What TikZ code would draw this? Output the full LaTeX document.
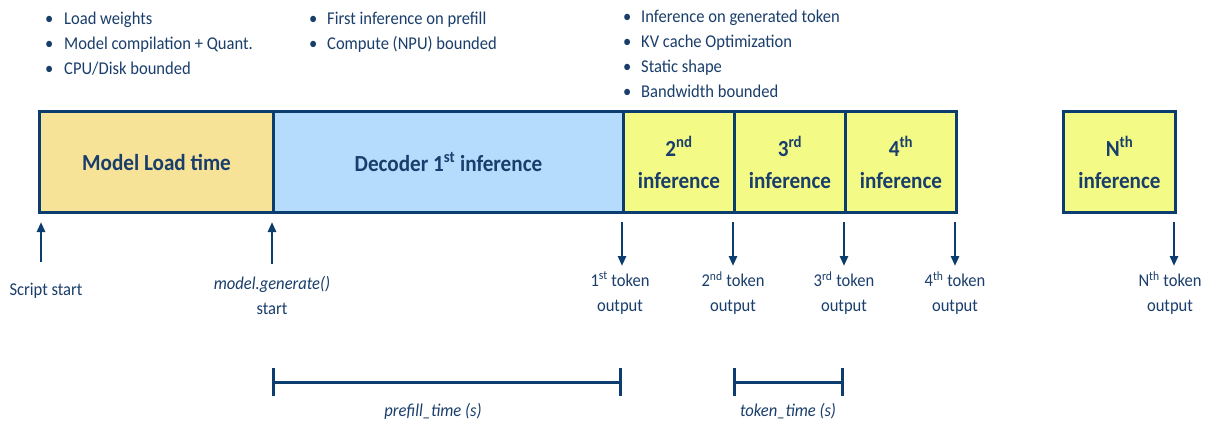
\documentclass[tikz,border=0pt]{standalone}
\usepackage{fontspec}
\setmainfont{Carlito}[FakeStretch=0.92]
\usetikzlibrary{arrows.meta}
\definecolor{dblue}{HTML}{0B3D6E}
\definecolor{tcol}{HTML}{1A3E6B}
\definecolor{loadc}{HTML}{F6E398}
\definecolor{decc}{HTML}{B5DBFD}
\definecolor{infc}{HTML}{F3FA86}
\begin{document}
\begin{tikzpicture}[x=1pt,y=-1pt,
  stagebox/.style={draw=dblue, line width=3pt, minimum height=101pt, inner sep=0pt, anchor=north west,
    text=tcol, align=center, font=\fontsize{23}{32}\selectfont\bfseries},
  bullets/.style={anchor=north west, inner sep=0pt, align=left, text=tcol, font=\fontsize{18}{25}\selectfont},
  lbl/.style={inner sep=0pt, align=center, text=tcol, font=\fontsize{18}{25}\selectfont},
  arr/.style={draw=dblue, line width=2.5pt, -{Triangle[length=10pt,width=8pt]}},
  brk/.style={draw=dblue, line width=3pt, {Bar[width=28pt,line width=3pt]}-{Bar[width=28pt,line width=3pt]}},
  tlbl/.style={inner sep=0pt, text=tcol, font=\fontsize{18}{25}\selectfont\itshape}]
\useasboundingbox (0,0) rectangle (1209,426);
\fill[white] (0,0) rectangle (1209,426);

% bullet lists
\node[bullets] (l1) at (45,12) {\makebox[19pt][l]{•}Load weights\\\makebox[19pt][l]{•}Model compilation + Quant.\\\makebox[19pt][l]{•}CPU/Disk bounded};
\node[bullets] (l2) at (309,12) {\makebox[18pt][l]{•}First inference on prefill\\\makebox[18pt][l]{•}Compute (NPU) bounded};
\node[bullets] (l3) at (623,10) {\makebox[18pt][l]{•}Inference on generated token\\\makebox[18pt][l]{•}KV cache Optimization\\\makebox[18pt][l]{•}Static shape\\\makebox[18pt][l]{•}Bandwidth bounded};

% stage boxes
\node[stagebox, fill=loadc, minimum width=234pt] (load) at (38,110) {Model Load time};
\node[stagebox, fill=decc, minimum width=350pt] (dec) at (272,110) {Decoder 1\textsuperscript{st} inference};
\node[stagebox, fill=infc, minimum width=111pt] (i2) at (622,110) {2\textsuperscript{nd}\\inference};
\node[stagebox, fill=infc, minimum width=111pt] (i3) at (733,110) {3\textsuperscript{rd}\\inference};
\node[stagebox, fill=infc, minimum width=111pt] (i4) at (844,110) {4\textsuperscript{th}\\inference};
\node[stagebox, fill=infc, minimum width=112pt] (in) at (1062,110) {N\textsuperscript{th}\\inference};

% labels below
\node[lbl] (ss) at (46,291) {Script start};
\node[lbl] (mg) at (272,295) {\textit{model.generate()}\\start};
\node[lbl] (t1) at (620,293) {1\textsuperscript{st} token\\output};
\node[lbl] (t2) at (733,293) {2\textsuperscript{nd} token\\output};
\node[lbl] (t3) at (844,293) {3\textsuperscript{rd} token\\output};
\node[lbl] (t4) at (955,293) {4\textsuperscript{th} token\\output};
\node[lbl] (tn) at (1170,293) {N\textsuperscript{th} token\\output};

% arrows
\coordinate (a0s) at (41,262); \coordinate (a0e) at (41,222);
\coordinate (a1s) at (272,264); \coordinate (a1e) at (272,222);
\draw[arr] (a0s) -- (a0e);
\draw[arr] (a1s) -- (a1e);
\foreach \x/\n in {622/b1,733/b2,844/b3,955/b4,1174/bn}{
  \coordinate (\n s) at (\x,222); \coordinate (\n e) at (\x,266);
  \draw[arr] (\n s) -- (\n e);
}

% brackets
\coordinate (p0) at (272,382); \coordinate (p1) at (622,382);
\coordinate (q0) at (733,382); \coordinate (q1) at (844,382);
\draw[brk] (p0) -- (p1);
\draw[brk] (q0) -- (q1);
\node[tlbl] (pt) at (433,411) {prefill\_time (s)};
\node[tlbl] (tt) at (788,411) {token\_time (s)};
\end{tikzpicture}
\end{document}
